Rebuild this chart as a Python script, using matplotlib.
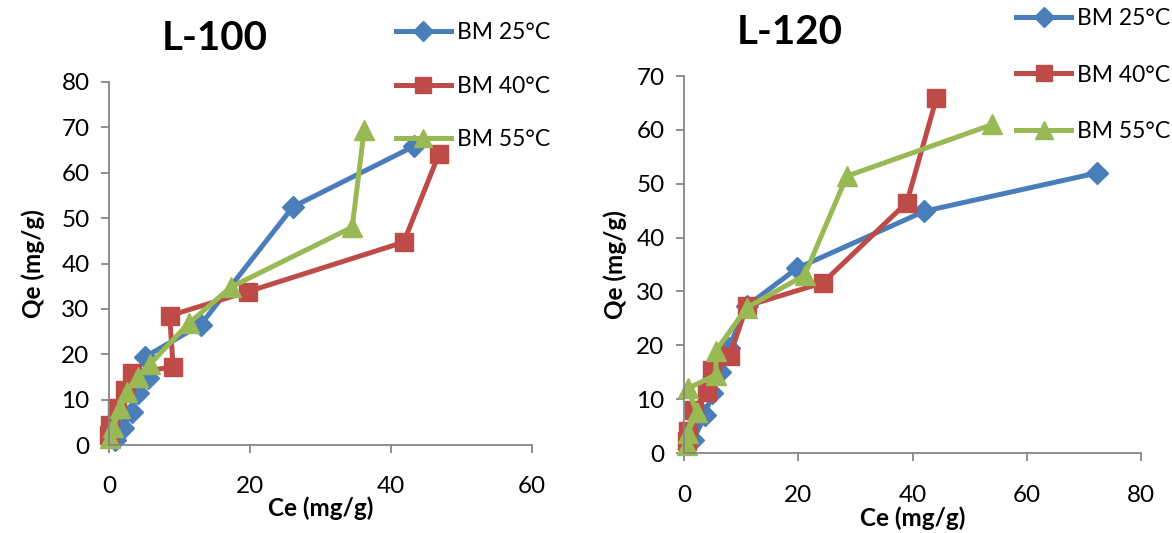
import numpy as np
import matplotlib
matplotlib.use('Agg')
import matplotlib.pyplot as plt

plt.rcParams['font.family'] = ['Lato', 'DejaVu Sans']

# Couleurs façon Excel
bleu = '#4A7EBB'
rouge = '#BE4B48'
vert = '#98B954'
gris = '#868686'

labels = ['BM 25°C', 'BM 40°C', 'BM 55°C']

# L-100 : Ce (mg/g), Qe (mg/g)
ce100_25 = [0.8, 2.0, 3.2, 4.1, 5.5, 5.1, 13.0, 26.1, 43.2]
qe100_25 = [1.0, 3.7, 7.3, 11.5, 14.7, 19.4, 26.5, 52.5, 65.8]
ce100_40 = [0.0, 0.2, 1.1, 2.3, 3.3, 9.1, 8.6, 19.7, 41.8, 46.8]
qe100_40 = [2.2, 4.5, 8.1, 12.1, 15.9, 17.2, 28.5, 33.8, 44.7, 64.1]
ce100_55 = [0.1, 0.6, 1.6, 2.5, 4.1, 5.8, 11.3, 17.3, 34.5, 36.2]
qe100_55 = [1.5, 4.0, 8.1, 11.7, 15.0, 17.8, 26.8, 34.8, 48.0, 69.5]

# L-120
ce120_25 = [1.6, 3.7, 4.9, 6.3, 7.8, 11.0, 19.8, 42.1, 72.3]
qe120_25 = [2.4, 7.0, 11.1, 15.0, 19.5, 27.3, 34.3, 44.9, 52.0]
ce120_40 = [0.5, 0.7, 1.7, 4.0, 4.9, 8.0, 11.0, 24.3, 39.0, 44.2]
qe120_40 = [2.2, 4.0, 8.0, 11.3, 15.5, 18.0, 27.3, 31.6, 46.5, 65.9]
ce120_55 = [0.5, 0.7, 2.2, 0.7, 5.6, 5.6, 11.0, 21.1, 28.5, 54.0]
qe120_55 = [1.5, 3.7, 7.6, 12.0, 14.5, 19.0, 27.0, 33.0, 51.4, 61.0]

W, H = 1172, 533
fig = plt.figure(figsize=(W / 100, H / 100), dpi=100)


def axe(x0, x1, y0, y1):
    return fig.add_axes([x0 / W, 1 - y1 / H, (x1 - x0) / W, (y1 - y0) / H])


def tracer(ax, series, xmax, ymax, xpas, ypas, titre, tx, ty,
           leg_x, leg_y, xpad, espace, ypad):
    styles = [(bleu, 'D', 11), (rouge, 's', 13), (vert, '^', 14)]
    for (x, y), (c, m, ms), lab in zip(series, styles, labels):
        ax.plot(x, y, color=c, marker=m, markersize=ms, lw=3.6, label=lab,
                solid_joinstyle='round', clip_on=False)
    ax.set_xlim(0, xmax)
    ax.set_ylim(0, ymax)
    ax.set_xticks(np.arange(0, xmax + 1, xpas))
    ax.set_yticks(np.arange(0, ymax + 1, ypas))
    for s in ['top', 'right']:
        ax.spines[s].set_visible(False)
    for s in ['left', 'bottom']:
        ax.spines[s].set_color(gris)
        ax.spines[s].set_linewidth(1.3)
    ax.tick_params(axis='both', direction='out', length=6, width=1.3,
                   color=gris, labelsize=17.5)
    ax.tick_params(axis='x', pad=xpad)
    ax.tick_params(axis='y', pad=8)
    ax.set_xlabel('Ce (mg/g)', fontsize=17.5, fontweight='bold', labelpad=0)
    ax.set_ylabel('Qe (mg/g)', fontsize=17.5, fontweight='bold', labelpad=ypad)
    fig.text(tx / W, 1 - ty / H, titre, fontsize=29, fontweight='bold',
             ha='center', va='center')
    ax.legend(loc='upper left', bbox_to_anchor=(leg_x / W, 1 - leg_y / H),
              bbox_transform=fig.transFigure, frameon=False, fontsize=16.5,
              handlelength=2.4, handletextpad=0.25, labelspacing=espace,
              borderaxespad=0, borderpad=0, markerscale=0.9)


ax1 = axe(109, 532, 82, 445)
tracer(ax1, [(ce100_25, qe100_25), (ce100_40, qe100_40), (ce100_55, qe100_55)],
       60, 80, 20, 10, 'L-100', 215, 38, 396, 22, 16, 1.42, 12)

ax2 = axe(684, 1141, 76, 453)
tracer(ax2, [(ce120_25, qe120_25), (ce120_40, qe120_40), (ce120_55, qe120_55)],
       80, 70, 20, 10, 'L-120', 790, 33, 1016, 8, 17, 1.55, 7)

fig.savefig('out.png', dpi=100)
